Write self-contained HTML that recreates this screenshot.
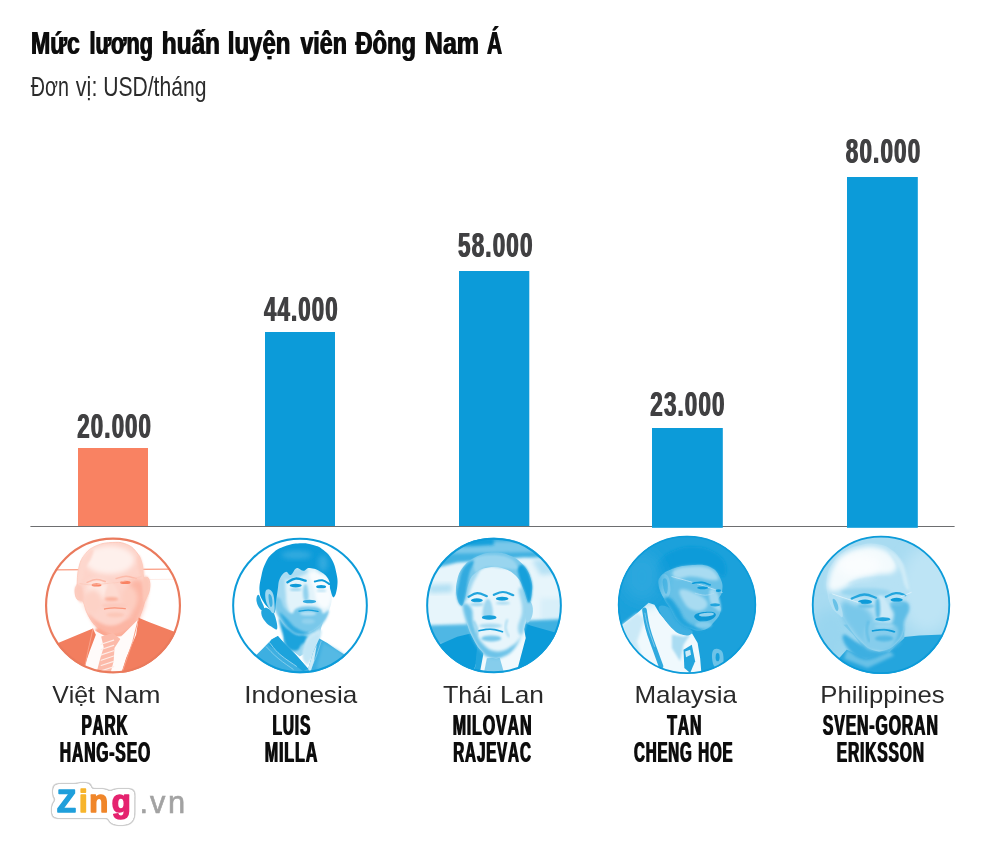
<!DOCTYPE html>
<html lang="vi">
<head>
<meta charset="utf-8">
<title>Mức lương huấn luyện viên Đông Nam Á</title>
<style>
html,body{margin:0;padding:0;background:#fff;}
body{width:1000px;height:842px;overflow:hidden;}
svg{display:block;}
text{font-family:"Liberation Sans",sans-serif;font-kerning:none;}
</style>
</head>
<body>
<svg width="1000" height="842" viewBox="0 0 1000 842">
<rect width="1000" height="842" fill="#fff"/>

<defs><filter id="fb" x="-2%" y="-10%" width="104%" height="120%"><feOffset in="SourceGraphic" dx="1" dy="0" result="o"/><feMerge><feMergeNode in="o"/><feMergeNode in="SourceGraphic"/></feMerge></filter></defs>
<g filter="url(#fb)"><text y="53.5" font-size="30.8" font-weight="700" fill="#0a0a0a"><tspan x="30.45" textLength="48.82" lengthAdjust="spacingAndGlyphs">Mức</tspan> <tspan x="88.89" textLength="63.56" lengthAdjust="spacingAndGlyphs">lương</tspan> <tspan x="161.30" textLength="58.21" lengthAdjust="spacingAndGlyphs">huấn</tspan> <tspan x="227.33" textLength="62.56" lengthAdjust="spacingAndGlyphs">luyện</tspan> <tspan x="299.91" textLength="46.53" lengthAdjust="spacingAndGlyphs">viên</tspan> <tspan x="354.91" textLength="60.68" lengthAdjust="spacingAndGlyphs">Đông</tspan> <tspan x="424.33" textLength="54.22" lengthAdjust="spacingAndGlyphs">Nam</tspan> <tspan x="486.48" textLength="15.07" lengthAdjust="spacingAndGlyphs">Á</tspan></text></g>
<text y="96.4" font-size="27.6" font-weight="400" fill="#2b2b2b"><tspan x="30.77" textLength="38.11" lengthAdjust="spacingAndGlyphs">Đơn</tspan> <tspan x="75.83" textLength="21.54" lengthAdjust="spacingAndGlyphs">vị:</tspan> <tspan x="103.17" textLength="103.29" lengthAdjust="spacingAndGlyphs">USD/tháng</tspan></text>
<rect x="78" y="448" width="70.0" height="78.5" fill="#f98262"/>
<rect x="265" y="332" width="70.0" height="194.5" fill="#0c9bd9"/>
<rect x="459" y="271" width="70.3" height="255.5" fill="#0c9bd9"/>
<rect x="30.4" y="526" width="924.2" height="1" fill="#6d6e70"/>
<rect x="652" y="428" width="70.8" height="99.8" fill="#0c9bd9"/>
<rect x="847" y="177" width="70.8" height="350.8" fill="#0c9bd9"/>
<g filter="url(#fb)">
<text transform="translate(76.83 437.6) scale(0.6283 1)" font-size="35.4" font-weight="700" fill="#414042" letter-spacing="1.8">20.000</text>
<text transform="translate(263.46 321.4) scale(0.6280 1)" font-size="35.4" font-weight="700" fill="#414042" letter-spacing="1.8">44.000</text>
<text transform="translate(457.51 257.4) scale(0.6345 1)" font-size="35.4" font-weight="700" fill="#414042" letter-spacing="1.8">58.000</text>
<text transform="translate(649.82 415.8) scale(0.6318 1)" font-size="35.4" font-weight="700" fill="#414042" letter-spacing="1.8">23.000</text>
<text transform="translate(845.29 163.3) scale(0.6347 1)" font-size="35.4" font-weight="700" fill="#414042" letter-spacing="1.8">80.000</text>
</g>
<defs>
<filter id="b3" x="-30%" y="-30%" width="160%" height="160%"><feGaussianBlur stdDeviation="3"/></filter>
<filter id="b6" x="-30%" y="-30%" width="160%" height="160%"><feGaussianBlur stdDeviation="6"/></filter>
<filter id="b10" x="-30%" y="-30%" width="160%" height="160%"><feGaussianBlur stdDeviation="10"/></filter>
<filter id="b16" x="-30%" y="-30%" width="160%" height="160%"><feGaussianBlur stdDeviation="16"/></filter>
<filter id="b25" x="-30%" y="-30%" width="160%" height="160%"><feGaussianBlur stdDeviation="25"/></filter>
<filter id="b40" x="-30%" y="-30%" width="160%" height="160%"><feGaussianBlur stdDeviation="40"/></filter>
</defs>
<clipPath id="cp1"><circle cx="421" cy="424" r="409"/></clipPath>
<g transform="translate(43 535) scale(0.16627)">
<g clip-path="url(#cp1)">
<circle cx="421" cy="424" r="409" fill="#ffffff"/>
<path d="M60 210 L780 205" fill="none" stroke="#fa9b81" stroke-width="7" stroke-linecap="round" stroke-linejoin="round"/>
<path d="M600 268 L810 266" fill="none" stroke="#fee9e3" stroke-width="5" stroke-linecap="round" stroke-linejoin="round"/>
<path d="M205 300 C210 270 205 240 215 200 C225 160 227 150 250 120 C273 90 283 82 320 65 C357 48 380 47 420 45 C460 43 469 43 500 55 C531 67 539 75 560 100 C581 125 585 137 595 170 C605 203 596 230 605 250 C614 270 627 244 635 262 C643 280 645 300 640 330 C635 360 623 369 612 400 C601 431 603 439 590 470 C577 501 581 514 555 540 C529 566 504 577 470 588 C436 599 431 598 400 592 C369 586 359 585 330 560 C301 535 290 515 270 480 C250 445 254 421 240 400 C226 379 215 399 205 385 C195 371 193 354 193 335 C193 316 200 330 205 300Z" fill="#fdd4ca"/>
<path d="M205 300 C207 278 205 240 215 200 C225 160 227 150 250 120 C273 90 283 82 320 65 C357 48 380 47 420 45 C460 43 469 43 500 55 C531 67 539 75 560 100 C581 125 585 137 595 170 C605 203 596 230 605 250 C614 270 627 244 635 262 C643 280 645 300 640 330 C635 360 623 369 612 400 C601 431 603 439 590 470 C577 501 581 514 555 540 C529 566 504 577 470 588 C436 599 431 598 400 592 C369 586 359 585 330 560 C301 535 290 515 270 480 C250 445 254 421 240 400 C226 379 215 399 205 385 C195 371 193 354 193 335 C193 316 202 308 205 300" fill="none" stroke="#fcc0b0" stroke-width="5" stroke-linecap="round" stroke-linejoin="round" filter="url(#b3)"/>
<ellipse cx="400" cy="150" rx="150" ry="85" fill="#fef0ec" filter="url(#b16)"/>
<ellipse cx="330" cy="330" rx="70" ry="60" fill="#fee9e3" filter="url(#b16)"/>
<path d="M215 210 C223 174 231 152 250 125 C269 98 291 82 300 85 C309 88 300 115 290 140 C280 165 267 169 255 200 C243 231 244 260 235 280 C226 300 219 305 215 290 C211 275 207 246 215 210Z" fill="#fdd7cd" filter="url(#b6)"/>
<path d="M575 120 C582 122 593 151 600 180 C607 209 611 237 608 250 C605 263 593 258 585 240 C577 222 572 196 570 170 C568 144 568 118 575 120Z" fill="#fdcdc0" filter="url(#b6)"/>
<path d="M520 300 C533 267 580 258 600 280 C620 302 614 358 612 400 C610 442 603 439 590 470 C577 501 581 514 555 540 C529 566 500 577 470 588 C440 599 413 605 420 590 C427 575 474 555 500 520 C526 485 536 478 540 430 C544 382 507 333 520 300Z" fill="#fcb6a4" filter="url(#b16)"/>
<path d="M270 470 C270 461 297 504 330 520 C363 536 378 547 420 545 C462 543 489 513 520 510 C551 507 571 512 560 530 C549 548 505 576 470 590 C435 604 431 600 400 594 C369 588 359 589 330 562 C301 535 270 479 270 470Z" fill="#fcb6a4" filter="url(#b10)"/>
<ellipse cx="300" cy="400" rx="55" ry="70" fill="#fdd2c6" filter="url(#b16)"/>
<ellipse cx="520" cy="380" rx="50" ry="70" fill="#fdcdc0" filter="url(#b16)"/>
<path d="M205 300 C214 297 227 298 235 320 C243 342 246 385 240 400 C234 415 220 402 210 388 C200 374 194 354 193 335 C192 316 196 303 205 300Z" fill="#fccabd" filter="url(#b6)"/>
<path d="M605 255 C613 240 627 246 635 262 C643 278 645 300 640 330 C635 360 621 400 612 400 C603 400 602 362 600 330 C598 298 597 270 605 255Z" fill="#fcc7b8" filter="url(#b6)"/>
<path d="M265 285 C277 281 296 269 320 268 C344 267 363 277 375 280" fill="none" stroke="#fcbaa9" stroke-width="9" stroke-linecap="round" stroke-linejoin="round" filter="url(#b3)"/>
<path d="M440 262 C453 259 474 248 500 248 C526 248 547 259 560 262" fill="none" stroke="#fcbaa9" stroke-width="9" stroke-linecap="round" stroke-linejoin="round" filter="url(#b3)"/>
<ellipse cx="322" cy="300" rx="30" ry="10" fill="#f98262" filter="url(#b3)"/>
<ellipse cx="495" cy="285" rx="32" ry="10" fill="#f98262" filter="url(#b3)"/>
<path d="M222 292 C239 294 265 300 300 300 C335 300 343 296 380 292 C417 288 424 291 470 282 C516 273 564 257 590 250" fill="none" stroke="#fcc7b8" stroke-width="4" stroke-linecap="round" stroke-linejoin="round"/>
<path d="M395 300 C408 284 417 287 430 300 C443 313 451 341 455 360 C459 379 462 378 450 385 C438 392 418 394 400 392 C382 390 371 395 370 375 C369 355 382 316 395 300Z" fill="#fddad0" filter="url(#b6)"/>
<ellipse cx="412" cy="385" rx="42" ry="12" fill="#fbb29e" filter="url(#b6)"/>
<ellipse cx="430" cy="425" rx="75" ry="16" fill="#fccabd" filter="url(#b6)"/>
<path d="M370 445 C383 443 402 438 430 438 C458 438 481 442 495 443" fill="none" stroke="#fa957a" stroke-width="8" stroke-linecap="round" stroke-linejoin="round" filter="url(#b3)"/>
<ellipse cx="435" cy="480" rx="55" ry="14" fill="#fcc7b8" filter="url(#b6)"/>
<path d="M330 560 C348 560 369 586 400 592 C431 598 436 599 470 588 C504 577 534 546 555 540 C576 534 584 545 565 560 C546 575 511 599 470 610 C429 621 413 616 380 612 C347 608 331 601 320 590 C309 579 312 560 330 560Z" fill="#fba58e" filter="url(#b6)"/>
<path d="M300 568 L380 612 L470 610 L575 505 L600 600 L480 830 L240 830 L255 700Z" fill="#fffbfa"/>
<path d="M40 670 L300 562 L318 600 L280 700 L250 790 L240 860 L0 860Z" fill="#f27e5f"/>
<path d="M575 498 L640 525 L810 590 L860 640 L860 860 L462 860 L500 740 L560 600Z" fill="#f27e5f"/>
<path d="M300 565 L270 700 L250 800" fill="none" stroke="#faa189" stroke-width="6" stroke-linecap="round" stroke-linejoin="round" filter="url(#b3)"/>
<path d="M575 500 L540 640 L475 830" fill="none" stroke="#faa189" stroke-width="6" stroke-linecap="round" stroke-linejoin="round" filter="url(#b3)"/>
<path d="M350 610 L420 590 L465 625 L430 680 L425 760 L405 835 L320 835 L345 740 L365 675Z" fill="#fcbaa9"/>
<path d="M350 657 L425 632" fill="none" stroke="#feece7" stroke-width="7" stroke-linecap="round" stroke-linejoin="round"/>
<path d="M350 689 L425 664" fill="none" stroke="#feece7" stroke-width="7" stroke-linecap="round" stroke-linejoin="round"/>
<path d="M350 721 L425 696" fill="none" stroke="#feece7" stroke-width="7" stroke-linecap="round" stroke-linejoin="round"/>
<path d="M350 753 L425 728" fill="none" stroke="#feece7" stroke-width="7" stroke-linecap="round" stroke-linejoin="round"/>
<path d="M350 785 L425 760" fill="none" stroke="#feece7" stroke-width="7" stroke-linecap="round" stroke-linejoin="round"/>
<path d="M350 817 L425 792" fill="none" stroke="#feece7" stroke-width="7" stroke-linecap="round" stroke-linejoin="round"/>
<path d="M350 849 L425 824" fill="none" stroke="#feece7" stroke-width="7" stroke-linecap="round" stroke-linejoin="round"/>
</g>
<circle cx="421" cy="424" r="402.5" fill="none" stroke="#ea7a5c" stroke-width="13"/>
</g>
<clipPath id="cp2"><circle cx="421" cy="424" r="408"/></clipPath>
<g transform="translate(230 535) scale(0.16627)">
<g clip-path="url(#cp2)">
<circle cx="421" cy="424" r="408" fill="#ffffff"/>
<path d="M300 500 L325 560 L322 660 L420 730 L525 665 L548 560 L560 520Z" fill="#9ed7f0"/>
<path d="M300 500 C314 498 347 567 380 590 C413 613 430 596 450 604 C470 612 474 613 470 625 C466 637 445 645 430 660 C415 675 419 692 400 695 C381 698 363 696 345 675 C327 654 328 638 318 600 C308 562 286 502 300 500Z" fill="#1fa3dc" filter="url(#b6)"/>
<path d="M470 610 C491 590 531 563 545 570 C559 577 545 611 535 640 C525 669 514 669 500 700 C486 731 483 773 470 780 C457 787 444 756 440 730 C436 704 443 686 450 660 C457 634 449 630 470 610Z" fill="#cae9f7" filter="url(#b6)"/>
<path d="M470 640 C490 614 518 594 530 600 C542 606 538 630 525 665 C512 700 489 748 470 760 C451 772 440 746 440 720 C440 694 450 666 470 640Z" fill="#c2e6f6" filter="url(#b6)"/>
<path d="M120 760 L190 690 L250 628 L288 608 L325 650 L400 725 L470 805 L500 705 L537 622 L585 650 L640 688 L720 740 L760 860 L100 860Z" fill="#3dafe1"/>
<path d="M250 628 L288 608 L325 650 L400 725 L470 805 L440 820 L330 740 L230 660Z" fill="#1fa3dc" filter="url(#b3)"/>
<path d="M238 648 C252 663 264 687 300 718 C336 749 378 774 400 790" fill="none" stroke="#92d2ee" stroke-width="6" stroke-linecap="round" stroke-linejoin="round" filter="url(#b3)"/>
<path d="M218 672 C234 687 254 712 290 742 C326 772 360 793 380 808" fill="none" stroke="#92d2ee" stroke-width="5" stroke-linecap="round" stroke-linejoin="round" filter="url(#b3)"/>
<path d="M548 640 C542 658 534 687 522 720 C510 753 499 775 492 790" fill="none" stroke="#79c8ea" stroke-width="6" stroke-linecap="round" stroke-linejoin="round" filter="url(#b3)"/>
<path d="M560 650 L640 690 L720 745 L700 800 L600 830 L520 800Z" fill="#55b9e4" filter="url(#b10)"/>
<path d="M470 805 L500 705 L522 660 L505 760 L482 832Z" fill="#ceebf7" filter="url(#b3)"/>
<path d="M275 270 C290 224 292 226 335 210 C378 194 419 191 470 195 C521 199 535 207 565 230 C595 253 595 267 605 300 C615 333 614 345 612 380 C610 415 605 429 594 460 C583 491 583 495 562 520 C541 545 529 558 500 574 C471 590 461 596 430 594 C399 592 389 584 360 564 C331 544 320 534 300 502 C280 470 274 471 268 420 C262 369 260 316 275 270Z" fill="#e2f3fa"/>
<path d="M275 270 C288 234 312 240 325 255 C338 270 331 302 335 340 C339 378 334 390 345 430 C356 470 382 491 385 520 C388 549 379 568 360 564 C341 560 320 534 300 502 C280 470 274 471 268 420 C262 369 262 306 275 270Z" fill="#a3d9f1" filter="url(#b10)"/>
<path d="M300 230 C315 215 363 203 400 200 C437 197 466 204 470 215 C474 226 451 238 420 250 C389 262 356 274 330 270 C304 266 285 245 300 230Z" fill="#aadcf2" filter="url(#b10)"/>
<path d="M268 400 C268 372 287 371 300 380 C313 389 312 420 328 440 C344 460 356 472 372 472 C388 472 378 452 400 442 C422 432 439 428 470 428 C501 428 520 432 540 442 C560 452 548 469 560 472 C572 475 593 444 594 455 C595 466 585 497 564 524 C543 551 529 561 500 577 C471 593 461 600 430 598 C399 596 389 587 360 567 C331 547 320 542 300 505 C280 468 268 428 268 400Z" fill="#79c8ea" filter="url(#b6)"/>
<path d="M300 470 C296 455 318 480 340 500 C362 520 369 541 400 560 C431 579 449 586 480 585 C511 584 536 557 540 555 C544 553 524 569 500 578 C476 587 461 600 430 598 C399 596 389 595 360 567 C331 539 304 485 300 470Z" fill="#30aadf" filter="url(#b6)"/>
<ellipse cx="470" cy="472" rx="50" ry="12" fill="#b6e1f4" filter="url(#b6)"/>
<path d="M415 458 C427 457 445 452 470 452 C495 452 517 458 530 460" fill="none" stroke="#18a0db" stroke-width="7" stroke-linecap="round" stroke-linejoin="round" filter="url(#b3)"/>
<ellipse cx="470" cy="520" rx="40" ry="16" fill="#92d2ee" filter="url(#b6)"/>
<path d="M480 230 C493 212 538 222 565 240 C592 258 596 277 605 310 C614 343 615 361 608 390 C601 419 593 437 575 440 C557 443 540 431 525 405 C510 379 515 358 505 320 C495 282 467 248 480 230Z" fill="#f8fcfe" filter="url(#b10)"/>
<path d="M440 320 C443 300 455 287 462 300 C469 313 475 360 472 380 C469 400 454 405 447 392 C440 379 437 340 440 320Z" fill="#92d2ee" filter="url(#b6)"/>
<ellipse cx="478" cy="400" rx="40" ry="11" fill="#30aadf" filter="url(#b3)"/>
<path d="M345 285 C356 280 371 264 395 262 C419 260 442 272 455 275" fill="none" stroke="#0c9bd9" stroke-width="14" stroke-linecap="round" stroke-linejoin="round" filter="url(#b3)"/>
<path d="M510 280 C520 278 536 269 555 272 C574 275 588 290 597 295" fill="none" stroke="#0c9bd9" stroke-width="12" stroke-linecap="round" stroke-linejoin="round" filter="url(#b3)"/>
<ellipse cx="395" cy="304" rx="36" ry="11" fill="#0c9bd9" filter="url(#b3)"/>
<ellipse cx="548" cy="311" rx="30" ry="10" fill="#0c9bd9" filter="url(#b3)"/>
<ellipse cx="395" cy="328" rx="36" ry="8" fill="#92d2ee" filter="url(#b6)"/>
<ellipse cx="550" cy="335" rx="30" ry="7" fill="#b6e1f4" filter="url(#b6)"/>
<path d="M238 445 C223 430 213 423 200 400 C187 377 181 373 178 340 C175 307 180 287 188 250 C196 213 198 201 213 170 C228 139 232 130 258 108 C284 86 294 81 330 68 C366 55 383 52 420 50 C457 48 469 51 500 60 C531 69 537 70 562 90 C587 110 597 119 614 150 C631 181 633 195 640 230 C647 265 649 278 645 310 C641 342 633 371 624 375 C615 379 611 353 604 330 C597 307 606 294 594 270 C582 246 573 238 548 222 C523 206 504 200 480 198 C456 196 458 215 440 215 C422 215 416 194 400 200 C384 206 379 235 365 240 C351 245 349 217 335 222 C321 227 311 238 300 262 C289 286 292 300 287 330 C282 360 282 369 277 400 C272 431 275 460 266 470 C257 480 253 460 238 445Z" fill="#0c9bd9"/>
<ellipse cx="400" cy="120" rx="90" ry="25" fill="#30aadf" filter="url(#b16)"/>
<ellipse cx="560" cy="170" rx="30" ry="50" fill="#30aadf" filter="url(#b16)"/>
<path d="M205 440 C194 445 186 452 188 470 C190 488 198 502 212 520 C226 538 234 543 250 552 C266 561 280 579 284 562 C288 545 276 500 266 475 C256 450 251 456 238 448 C225 440 216 435 205 440Z" fill="#24a5dd" filter="url(#b3)"/>
<path d="M170 360 C163 360 157 380 160 400 C163 420 175 441 185 450 C195 459 204 451 205 440 C206 429 198 418 190 400 C182 382 177 360 170 360Z" fill="#24a5dd" filter="url(#b3)"/>
<path d="M220 330 C229 322 244 325 255 345 C266 365 266 392 268 420 C270 448 269 466 262 470 C255 474 246 460 235 440 C224 420 216 404 213 380 C210 356 211 338 220 330Z" fill="#9ed7f0" filter="url(#b3)"/>
<path d="M232 360 C234 348 245 357 250 370 C255 383 257 408 255 420 C253 432 245 438 240 425 C235 412 230 372 232 360Z" fill="#3dafe1" filter="url(#b3)"/>
</g>
<circle cx="421" cy="424" r="402.0" fill="none" stroke="#0c9bd9" stroke-width="12"/>
</g>
<clipPath id="cp3"><circle cx="421" cy="424" r="408"/></clipPath>
<g transform="translate(424 535) scale(0.16627)">
<g clip-path="url(#cp3)">
<circle cx="421" cy="424" r="408" fill="#e7f5fb"/>
<path d="M0 0 L842 0 L842 140 L600 135 L200 165 L0 215Z" fill="#41b1e1" filter="url(#b10)"/>
<path d="M120 40 L720 40 L720 100 L120 115Z" fill="#79c8ea" filter="url(#b10)"/>
<path d="M230 20 L420 15 L420 60 L230 70Z" fill="#18a0db" filter="url(#b10)"/>
<path d="M650 150 L842 140 L842 230 L700 240Z" fill="#b6e1f4" filter="url(#b16)"/>
<path d="M30 300 L170 295 L170 345 L30 350Z" fill="#b1dff3" filter="url(#b16)"/>
<path d="M700 380 L842 380 L842 520 L700 520Z" fill="#d8eff9" filter="url(#b16)"/>
<path d="M0 545 L300 535 L300 660 L0 660Z" fill="#50b7e4" filter="url(#b10)"/>
<path d="M600 515 L842 505 L842 640 L600 640Z" fill="#41b1e1" filter="url(#b10)"/>
<path d="M90 660 L200 612 L330 580 L360 700 L330 860 L0 860 L0 700Z" fill="#0c9bd9"/>
<path d="M600 528 L640 545 L800 590 L860 640 L860 860 L540 860 L580 700Z" fill="#0c9bd9"/>
<path d="M320 640 L420 700 L600 555 L612 620 L560 815 L300 815 L330 720Z" fill="#f0f9fd"/>
<path d="M378 742 L455 737 L482 832 L360 832Z" fill="#86cdec"/>
<path d="M330 580 L360 700 L330 860 L300 860Z" fill="#24a5dd" filter="url(#b3)"/>
<path d="M225 400 C222 352 226 340 240 300 C254 260 259 245 290 220 C321 195 338 192 380 185 C422 178 439 176 480 190 C521 204 539 219 565 250 C591 281 587 297 600 330 C613 363 616 369 625 400 C634 431 642 444 640 470 C638 496 626 491 615 520 C604 549 606 564 590 600 C574 636 566 653 540 682 C514 711 501 720 470 732 C439 744 429 746 400 737 C371 728 364 720 340 692 C316 664 309 650 290 612 C271 574 269 567 255 520 C241 473 228 448 225 400Z" fill="#e7f5fb"/>
<path d="M235 420 C242 402 271 414 285 440 C299 466 286 494 300 540 C314 586 319 615 350 650 C381 685 398 698 440 700 C482 702 507 682 540 660 C573 638 590 594 590 600 C590 606 566 657 540 687 C514 717 501 723 470 735 C439 747 429 749 400 740 C371 731 364 722 340 694 C316 666 309 652 290 614 C271 576 267 565 255 522 C243 479 228 438 235 420Z" fill="#6dc3e8" filter="url(#b10)"/>
<path d="M570 330 C572 304 588 315 600 330 C612 345 616 369 625 400 C634 431 642 444 640 470 C638 496 626 491 615 520 C604 549 601 591 590 600 C579 609 565 593 565 560 C565 527 589 501 590 450 C591 399 568 356 570 330Z" fill="#99d5ef" filter="url(#b10)"/>
<path d="M240 300 C252 262 270 244 290 225 C310 206 330 198 330 215 C330 232 305 264 290 300 C275 336 274 358 262 380 C250 402 240 418 235 400 C230 382 228 338 240 300Z" fill="#9ed7f0" filter="url(#b10)"/>
<path d="M268 372 C279 367 296 351 320 350 C344 349 365 364 378 368" fill="none" stroke="#24a5dd" stroke-width="13" stroke-linecap="round" stroke-linejoin="round" filter="url(#b3)"/>
<path d="M420 360 C432 356 449 343 475 343 C501 343 523 358 537 362" fill="none" stroke="#24a5dd" stroke-width="13" stroke-linecap="round" stroke-linejoin="round" filter="url(#b3)"/>
<ellipse cx="318" cy="393" rx="36" ry="12" fill="#0c9bd9" filter="url(#b3)"/>
<ellipse cx="470" cy="383" rx="38" ry="12" fill="#0c9bd9" filter="url(#b3)"/>
<ellipse cx="318" cy="418" rx="42" ry="10" fill="#9ed7f0" filter="url(#b6)"/>
<ellipse cx="475" cy="410" rx="42" ry="10" fill="#aadcf2" filter="url(#b6)"/>
<path d="M368 400 C378 384 388 380 398 395 C408 410 415 447 415 470 C415 493 410 494 398 500 C386 506 372 502 362 495 C352 488 351 491 352 470 C353 449 358 416 368 400Z" fill="#9ed7f0" filter="url(#b6)"/>
<ellipse cx="392" cy="496" rx="44" ry="14" fill="#18a0db" filter="url(#b3)"/>
<path d="M330 576 C345 574 369 565 400 566 C431 567 456 578 472 582" fill="none" stroke="#0c9bd9" stroke-width="10" stroke-linecap="round" stroke-linejoin="round" filter="url(#b3)"/>
<ellipse cx="400" cy="546" rx="70" ry="13" fill="#aadcf2" filter="url(#b6)"/>
<ellipse cx="405" cy="622" rx="60" ry="18" fill="#79c8ea" filter="url(#b6)"/>
<path d="M300 520 C304 531 318 548 320 570 C322 592 312 609 310 620" fill="none" stroke="#79c8ea" stroke-width="10" stroke-linecap="round" stroke-linejoin="round" filter="url(#b6)"/>
<path d="M500 510 C498 521 488 538 490 560 C492 582 506 599 510 610" fill="none" stroke="#9ed7f0" stroke-width="10" stroke-linecap="round" stroke-linejoin="round" filter="url(#b6)"/>
<path d="M615 400 C623 387 639 392 647 410 C655 428 658 454 652 480 C646 506 631 529 622 527 C613 525 612 498 610 470 C608 442 607 413 615 400Z" fill="#99d5ef" filter="url(#b3)"/>
<path d="M225 425 C215 423 204 402 198 370 C192 338 189 320 198 280 C207 240 211 223 238 190 C265 157 280 147 320 128 C360 109 376 106 420 105 C464 104 480 107 520 125 C560 143 575 154 602 186 C629 218 634 234 644 270 C654 306 651 320 648 350 C645 380 640 410 630 407 C620 404 616 367 602 335 C588 303 592 291 567 262 C542 233 527 220 487 205 C447 190 425 189 385 195 C345 201 331 209 305 232 C279 255 278 267 265 300 C252 333 254 352 245 380 C236 408 235 427 225 425Z" fill="#79c8ea"/>
<path d="M565 200 C570 182 585 171 602 186 C619 201 634 234 644 270 C654 306 651 320 648 350 C645 380 640 410 630 407 C620 404 613 365 602 335 C591 305 586 300 578 270 C570 240 560 218 565 200Z" fill="#18a0db" filter="url(#b6)"/>
<path d="M208 300 C217 263 218 231 238 200 C258 169 293 149 300 158 C307 167 282 191 270 240 C258 289 255 339 245 380 C235 421 235 427 225 425 C215 423 202 398 198 370 C194 342 199 337 208 300Z" fill="#30aadf" filter="url(#b6)"/>
<ellipse cx="400" cy="150" rx="100" ry="22" fill="#a3d9f1" filter="url(#b10)"/>
<path d="M330 140 C372 120 449 122 500 135 C551 148 564 186 560 200 C556 214 520 202 480 200 C440 198 417 186 380 192 C343 198 321 236 310 225 C299 214 288 160 330 140Z" fill="#99d5ef" filter="url(#b6)"/>
</g>
<circle cx="421" cy="424" r="402.0" fill="none" stroke="#0c9bd9" stroke-width="12"/>
</g>
<clipPath id="cp4"><circle cx="421" cy="420" r="416"/></clipPath>
<g transform="translate(617 535) scale(0.16627)">
<g clip-path="url(#cp4)">
<circle cx="421" cy="420" r="416" fill="#1ba1db"/>
<path d="M230 330 C218 310 208 280 215 240 C222 200 230 183 260 150 C290 117 304 108 350 90 C396 72 419 68 470 70 C521 72 540 78 580 100 C620 122 637 137 650 170 C663 203 660 244 640 250 C620 256 604 210 560 195 C516 180 488 179 440 180 C392 181 373 187 340 200 C307 213 305 211 290 240 C275 269 283 310 270 330 C257 350 242 350 230 330Z" fill="#0c9bd9" filter="url(#b10)"/>
<path d="M25 545 L120 470 L190 408 L225 420 L255 470 L330 560 L400 600 L450 590 L485 650 L500 740 L510 860 L100 860Z" fill="#f0f9fd"/>
<path d="M25 545 L120 470 L170 500 L120 640 L160 780 L100 860Z" fill="#cae9f7" filter="url(#b10)"/>
<path d="M330 600 L400 610 L440 600 L400 660 L380 760 L330 680Z" fill="#aadcf2" filter="url(#b6)"/>
<path d="M400 690 L450 660 L470 760 L440 830 L405 800Z" fill="#24a5dd" filter="url(#b3)"/>
<path d="M410 700 L440 690 L445 720 L415 735Z" fill="#ceebf7"/>
<path d="M165 450 C169 474 172 509 185 560 C198 611 207 629 225 680 C243 731 256 766 265 790" fill="none" stroke="#30aadf" stroke-width="28" stroke-linecap="round" stroke-linejoin="round"/>
<path d="M168 470 C172 490 175 516 188 560 C201 604 218 646 226 670" fill="none" stroke="#b6e1f4" stroke-width="6" stroke-linecap="round" stroke-linejoin="round" opacity="0.6"/>
<path d="M250 440 C248 414 294 422 320 440 C346 458 344 492 370 520 C396 548 422 549 440 565 C458 581 459 584 450 592 C441 600 426 609 400 602 C374 595 363 596 330 560 C297 524 252 466 250 440Z" fill="#3dafe1" filter="url(#b3)"/>
<path d="M262 250 C280 228 291 220 330 205 C369 190 389 185 440 182 C491 179 520 174 560 192 C600 210 606 229 622 262 C638 295 636 310 632 340 C628 370 606 375 604 400 C602 425 629 425 625 452 C621 479 608 496 585 522 C562 548 552 563 520 572 C488 581 473 573 440 562 C407 551 396 548 370 522 C344 496 339 473 320 442 C301 411 297 412 282 382 C267 352 254 334 250 305 C246 276 244 272 262 250Z" fill="#68c1e7"/>
<path d="M340 215 C358 199 393 193 440 190 C487 187 518 184 555 200 C592 216 609 247 610 262 C611 277 595 273 560 270 C525 267 494 252 450 250 C406 248 384 270 360 262 C336 254 322 231 340 215Z" fill="#a8dbf1" filter="url(#b10)"/>
<path d="M380 330 C395 319 435 335 470 350 C505 365 529 378 540 400 C551 422 540 439 520 450 C500 461 476 461 450 450 C424 439 415 426 400 400 C385 374 365 341 380 330Z" fill="#a8dbf1" filter="url(#b10)"/>
<path d="M560 330 C569 318 586 319 600 345 C614 371 627 429 625 450 C623 471 604 451 590 440 C576 429 567 424 560 400 C553 376 551 342 560 330Z" fill="#a3d9f1" filter="url(#b6)"/>
<path d="M262 250 C272 235 287 229 300 240 C313 251 317 274 320 300 C323 326 323 342 315 360 C307 378 298 391 285 380 C272 369 260 339 255 310 C250 281 252 265 262 250Z" fill="#86cdec" filter="url(#b3)"/>
<path d="M275 275 C277 257 291 256 298 268 C305 280 307 312 305 330 C303 348 297 362 290 350 C283 338 273 293 275 275Z" fill="#55b9e4" filter="url(#b3)"/>
<path d="M320 380 C339 392 348 409 370 440 C392 471 387 491 420 520 C453 549 516 562 520 572 C524 582 473 576 440 565 C407 554 396 551 370 524 C344 497 339 475 320 444 C301 413 285 399 285 385 C285 371 301 368 320 380Z" fill="#24a5dd" filter="url(#b10)"/>
<path d="M330 250 C350 256 378 263 420 275 C462 287 473 290 520 305 C567 320 607 336 632 345" fill="none" stroke="#c2e6f6" stroke-width="5" stroke-linecap="round" stroke-linejoin="round"/>
<path d="M455 290 C467 289 487 283 510 285 C533 287 549 297 560 300" fill="none" stroke="#0c9bd9" stroke-width="10" stroke-linecap="round" stroke-linejoin="round" filter="url(#b3)"/>
<ellipse cx="515" cy="318" rx="32" ry="9" fill="#0c9bd9" filter="url(#b3)"/>
<ellipse cx="610" cy="335" rx="16" ry="8" fill="#0c9bd9" filter="url(#b3)"/>
<path d="M470 350 C483 353 506 362 530 362 C554 362 569 354 580 352" fill="none" stroke="#b6e1f4" stroke-width="4" stroke-linecap="round" stroke-linejoin="round"/>
<ellipse cx="590" cy="420" rx="30" ry="10" fill="#24a5dd" filter="url(#b3)"/>
<path d="M470 480 C483 469 514 464 540 462 C566 460 581 462 590 470 C599 478 595 489 580 500 C565 511 542 518 520 520 C498 522 491 519 480 510 C469 501 457 491 470 480Z" fill="#0c98d5" filter="url(#b3)"/>
<path d="M500 475 C513 470 554 466 570 468 C586 470 588 477 575 482 C562 487 526 492 510 490 C494 488 487 480 500 475Z" fill="#92d2ee" filter="url(#b3)"/>
<ellipse cx="520" cy="540" rx="50" ry="18" fill="#86cdec" filter="url(#b6)"/>
<path d="M575 700 C583 678 606 683 620 690 C634 697 638 708 640 730 C642 752 642 777 630 790 C618 803 597 810 585 790 C573 770 567 722 575 700Z" fill="#6dc3e8" filter="url(#b3)"/>
<ellipse cx="605" cy="735" rx="12" ry="25" fill="#18a0db" filter="url(#b3)"/>
<ellipse cx="150" cy="250" rx="120" ry="150" fill="#29a7de" filter="url(#b40)"/>
</g>
<circle cx="421" cy="420" r="411.0" fill="none" stroke="#0c9bd9" stroke-width="10"/>
</g>
<clipPath id="cp5"><circle cx="421" cy="420" r="416"/></clipPath>
<g transform="translate(811 535) scale(0.16627)">
<g clip-path="url(#cp5)">
<circle cx="421" cy="420" r="416" fill="#a8dbf1"/>
<ellipse cx="700" cy="330" rx="170" ry="260" fill="#bde4f5" filter="url(#b40)"/>
<ellipse cx="120" cy="600" rx="120" ry="160" fill="#99d5ef" filter="url(#b40)"/>
<path d="M160 750 L215 690 L330 745 L470 695 L560 614 L650 604 L800 598 L860 620 L860 860 L120 860Z" fill="#24a5dd"/>
<path d="M215 690 L330 745 L470 695 L500 725 L340 800 L200 745Z" fill="#68c1e7" filter="url(#b10)"/>
<path d="M195 540 L255 600 L330 700 L470 705 L562 620 L560 560 L400 520Z" fill="#79c8ea"/>
<path d="M195 600 C179 608 198 657 228 690 C258 723 277 748 330 750 C383 752 423 724 470 700 C517 676 556 643 545 640 C534 637 474 682 420 685 C366 688 350 674 300 655 C250 636 211 592 195 600Z" fill="#3dafe1" filter="url(#b10)"/>
<path d="M100 360 C93 322 88 302 95 260 C102 218 107 205 130 170 C153 135 163 124 200 100 C237 76 256 70 300 60 C344 50 360 50 400 55 C440 60 449 64 480 85 C511 106 519 116 540 150 C561 184 564 200 575 240 C586 280 590 295 590 330 C590 365 577 376 577 400 C577 424 595 414 592 440 C589 466 570 489 562 520 C554 551 566 553 557 580 C548 607 546 617 522 642 C498 667 483 681 450 692 C417 703 403 703 370 692 C337 681 329 668 300 642 C271 616 264 605 240 572 C216 539 208 514 190 492 C172 470 174 485 160 472 C146 459 138 457 125 432 C112 407 107 398 100 360Z" fill="#b6e1f4"/>
<path d="M112 330 C95 315 103 285 112 250 C121 215 128 202 152 172 C176 142 187 133 222 112 C257 91 272 85 312 77 C352 69 367 69 402 77 C437 85 447 89 472 112 C497 135 513 154 515 180 C517 206 510 218 480 230 C450 242 424 228 380 235 C336 242 322 241 280 260 C238 279 227 305 190 320 C153 335 129 345 112 330Z" fill="#f3fafd" filter="url(#b16)"/>
<ellipse cx="290" cy="180" rx="130" ry="70" fill="#fafdfe" filter="url(#b25)"/>
<path d="M472 97 C481 97 517 120 540 152 C563 184 564 203 575 242 C586 281 593 317 590 330 C587 343 573 324 562 300 C551 276 554 255 540 222 C526 189 515 180 500 152 C485 124 463 97 472 97Z" fill="#ceebf7" filter="url(#b6)"/>
<path d="M230 290 C256 284 295 268 350 262 C405 256 437 257 480 262 C523 267 531 280 545 285" fill="none" stroke="#b6e1f4" stroke-width="6" stroke-linecap="round" stroke-linejoin="round" filter="url(#b6)"/>
<path d="M220 322 C249 316 293 302 350 297 C407 292 435 292 480 297 C525 302 538 313 555 318" fill="none" stroke="#b6e1f4" stroke-width="6" stroke-linecap="round" stroke-linejoin="round" filter="url(#b6)"/>
<path d="M190 400 C205 384 229 411 260 420 C291 429 304 418 330 440 C356 462 377 485 380 520 C383 555 347 562 345 600 C343 638 382 683 372 692 C362 701 329 668 300 642 C271 616 264 605 240 572 C216 539 201 530 190 492 C179 454 175 416 190 400Z" fill="#79c8ea" filter="url(#b16)"/>
<path d="M480 420 C493 402 535 396 560 400 C585 404 592 414 592 440 C592 466 570 489 562 520 C554 551 566 553 557 580 C548 607 546 617 522 642 C498 667 477 689 450 692 C423 695 396 684 400 655 C404 626 448 598 470 560 C492 522 498 511 500 480 C502 449 467 438 480 420Z" fill="#5fbde6" filter="url(#b10)"/>
<path d="M340 540 C366 516 400 526 440 530 C480 534 507 534 520 560 C533 586 515 621 500 650 C485 679 479 683 450 692 C421 701 399 703 370 692 C341 681 327 673 320 640 C313 607 314 564 340 540Z" fill="#86cdec" filter="url(#b10)"/>
<ellipse cx="330" cy="345" rx="150" ry="26" fill="#99d5ef" filter="url(#b10)"/>
<path d="M108 360 C114 346 134 355 150 370 C166 385 171 403 180 430 C189 457 194 483 190 492 C186 501 174 485 160 472 C146 459 136 457 125 432 C114 407 102 374 108 360Z" fill="#b1dff3" filter="url(#b3)"/>
<path d="M130 390 C130 377 142 384 150 395 C158 406 165 427 165 440 C165 453 158 463 150 452 C142 441 130 403 130 390Z" fill="#68c1e7" filter="url(#b3)"/>
<path d="M245 382 C262 377 288 359 320 358 C352 357 376 374 392 378" fill="none" stroke="#24a5dd" stroke-width="14" stroke-linecap="round" stroke-linejoin="round" filter="url(#b3)"/>
<path d="M450 372 C463 367 484 352 510 350 C536 348 554 359 567 362" fill="none" stroke="#24a5dd" stroke-width="13" stroke-linecap="round" stroke-linejoin="round" filter="url(#b3)"/>
<ellipse cx="325" cy="402" rx="42" ry="14" fill="#0c9bd9" filter="url(#b3)"/>
<ellipse cx="515" cy="390" rx="37" ry="12" fill="#0c9bd9" filter="url(#b3)"/>
<ellipse cx="330" cy="428" rx="50" ry="11" fill="#6dc3e8" filter="url(#b6)"/>
<ellipse cx="515" cy="415" rx="40" ry="10" fill="#6dc3e8" filter="url(#b6)"/>
<path d="M130 355 C150 362 183 373 220 385 C257 397 282 404 300 410" fill="none" stroke="#e2f3fa" stroke-width="5" stroke-linecap="round" stroke-linejoin="round"/>
<path d="M540 372 L603 345" fill="none" stroke="#e2f3fa" stroke-width="5" stroke-linecap="round" stroke-linejoin="round"/>
<path d="M400 380 C410 358 422 360 440 380 C458 400 475 444 482 470 C489 496 486 492 472 500 C458 508 437 509 420 505 C403 501 399 508 395 480 C391 452 390 402 400 380Z" fill="#cae9f7" filter="url(#b6)"/>
<ellipse cx="432" cy="506" rx="46" ry="12" fill="#24a5dd" filter="url(#b3)"/>
<path d="M388 400 C392 378 404 372 410 390 C416 408 419 458 415 480 C411 502 399 510 393 492 C387 474 384 422 388 400Z" fill="#61bee6" filter="url(#b6)"/>
<path d="M370 577 C385 575 411 568 440 569 C469 570 488 579 502 582" fill="none" stroke="#0c9bd9" stroke-width="10" stroke-linecap="round" stroke-linejoin="round" filter="url(#b3)"/>
<ellipse cx="440" cy="549" rx="60" ry="12" fill="#9ed7f0" filter="url(#b6)"/>
<ellipse cx="440" cy="622" rx="55" ry="18" fill="#55b9e4" filter="url(#b6)"/>
<path d="M345 520 C343 533 334 554 335 580 C336 606 347 627 350 640" fill="none" stroke="#55b9e4" stroke-width="10" stroke-linecap="round" stroke-linejoin="round" filter="url(#b6)"/>
</g>
<circle cx="421" cy="420" r="410.5" fill="none" stroke="#0c9bd9" stroke-width="11"/>
</g>
<text y="703.1" font-size="24" font-weight="400" fill="#2a2a2a"><tspan x="52.29" textLength="42.69" lengthAdjust="spacingAndGlyphs">Việt</tspan> <tspan x="104.31" textLength="56.24" lengthAdjust="spacingAndGlyphs">Nam</tspan></text>
<text y="703.1" font-size="24" font-weight="400" fill="#2a2a2a"><tspan x="244.20" textLength="113.00" lengthAdjust="spacingAndGlyphs">Indonesia</tspan></text>
<text y="703.1" font-size="24" font-weight="400" fill="#2a2a2a"><tspan x="442.93" textLength="48.96" lengthAdjust="spacingAndGlyphs">Thái</tspan> <tspan x="500.04" textLength="43.86" lengthAdjust="spacingAndGlyphs">Lan</tspan></text>
<text y="703.1" font-size="24" font-weight="400" fill="#2a2a2a"><tspan x="634.47" textLength="102.53" lengthAdjust="spacingAndGlyphs">Malaysia</tspan></text>
<text y="703.1" font-size="24" font-weight="400" fill="#2a2a2a"><tspan x="820.39" textLength="124.24" lengthAdjust="spacingAndGlyphs">Philippines</tspan></text>
<g filter="url(#fb)">
<text transform="translate(80.97 734.8) scale(0.5110 1)" font-size="30.2" font-weight="700" fill="#111111" letter-spacing="1.6">PARK</text>
<text transform="translate(59.35 761.5) scale(0.5191 1)" font-size="30.2" font-weight="700" fill="#111111" letter-spacing="1.6">HANG-SEO</text>
<text transform="translate(271.96 734.8) scale(0.5157 1)" font-size="30.2" font-weight="700" fill="#111111" letter-spacing="1.6">LUIS</text>
<text transform="translate(264.22 761.5) scale(0.5343 1)" font-size="30.2" font-weight="700" fill="#111111" letter-spacing="1.6">MILLA</text>
<text transform="translate(452.13 734.8) scale(0.5304 1)" font-size="30.2" font-weight="700" fill="#111111" letter-spacing="1.6">MILOVAN</text>
<text transform="translate(452.78 761.5) scale(0.5044 1)" font-size="30.2" font-weight="700" fill="#111111" letter-spacing="1.6">RAJEVAC</text>
<text transform="translate(666.82 734.8) scale(0.5247 1)" font-size="30.2" font-weight="700" fill="#111111" letter-spacing="1.6">TAN</text>
<text transform="translate(633.59 761.5) scale(0.5000 1)" font-size="30.2" font-weight="700" fill="#111111" letter-spacing="1.6" word-spacing="1.52">CHENG HOE</text>
<text transform="translate(822.34 734.8) scale(0.5250 1)" font-size="30.2" font-weight="700" fill="#111111" letter-spacing="1.6">SVEN-GORAN</text>
<text transform="translate(836.15 761.5) scale(0.5173 1)" font-size="30.2" font-weight="700" fill="#111111" letter-spacing="1.6">ERIKSSON</text>
</g>
<defs>
<filter id="zl" x="-20%" y="-40%" width="140%" height="180%" color-interpolation-filters="sRGB">
<feMorphology in="SourceAlpha" operator="dilate" radius="3" result="m"/>
<feGaussianBlur in="m" stdDeviation="2.2" result="b"/>
<feComponentTransfer in="b" result="o1"><feFuncA type="linear" slope="16" intercept="-0.55"/></feComponentTransfer>
<feComponentTransfer in="b" result="o2"><feFuncA type="linear" slope="16" intercept="-2.38"/></feComponentTransfer>
<feFlood flood-color="#cdcdcd" result="fg"/><feComposite in="fg" in2="o1" operator="in" result="g"/>
<feFlood flood-color="#ffffff" result="fw"/><feComposite in="fw" in2="o2" operator="in" result="w"/>
<feMerge><feMergeNode in="g"/><feMergeNode in="w"/><feMergeNode in="SourceGraphic"/></feMerge>
</filter>
</defs>
<text y="812.4" font-size="31" font-weight="700" stroke-width="1.5" stroke-linejoin="round" filter="url(#zl)"><tspan x="56.9" fill="#1f9fdb" stroke="#1f9fdb">Z</tspan><tspan x="78.9" fill="#f7b52c" stroke="#f7b52c">i</tspan><tspan x="89.3" fill="#f0862a" stroke="#f0862a">n</tspan><tspan x="111.7" fill="#e5236f" stroke="#e5236f">g</tspan></text>
<text y="813.2" font-size="30.8" font-weight="400" fill="#a2a2a2" stroke="#a2a2a2" stroke-width="0.6"><tspan x="139.4">.</tspan><tspan x="149.9">v</tspan><tspan x="168">n</tspan></text>

</svg>
</body>
</html>
